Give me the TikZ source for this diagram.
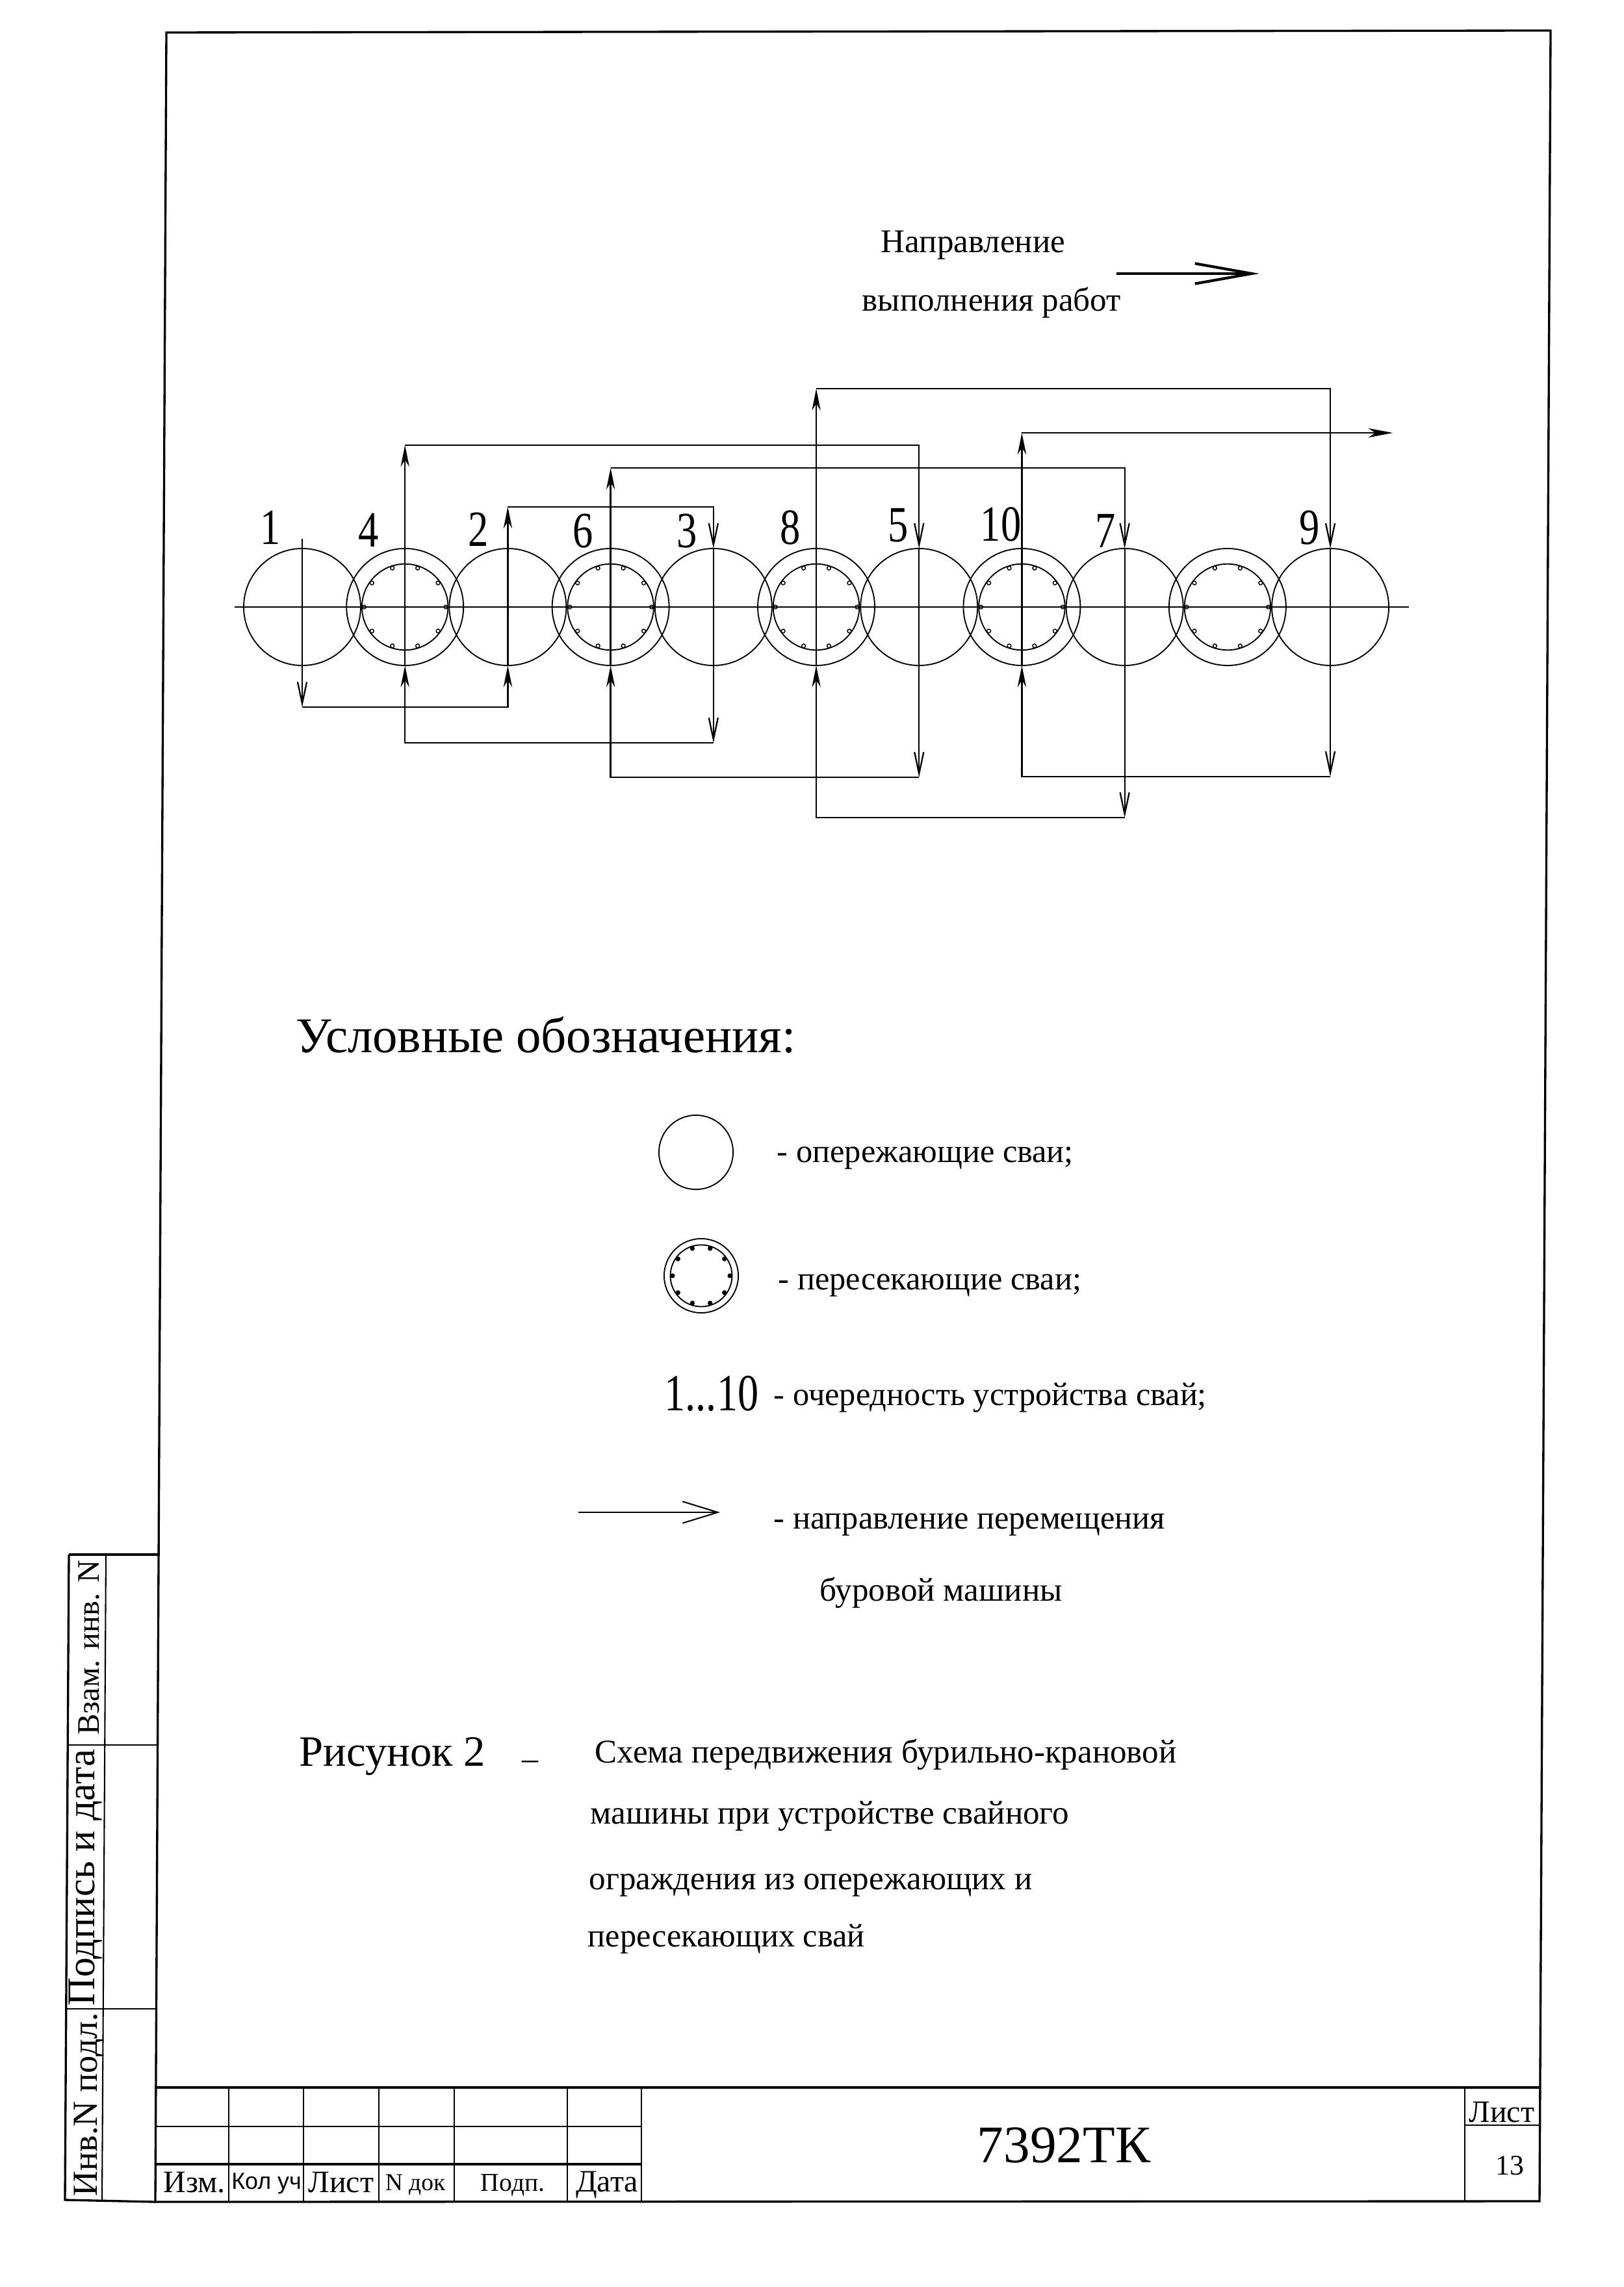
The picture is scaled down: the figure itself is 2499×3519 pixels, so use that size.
\documentclass[tikz,border=0pt]{standalone}
\usepackage{fontspec}
\setmainfont{Liberation Serif}
\setsansfont{Liberation Sans}
\usepackage{tikz}
\usetikzlibrary{arrows.meta,positioning}
\tikzset{
  pile/.style={draw, circle, line width=.45pt, inner sep=0pt, outer sep=0pt, minimum size=#1},
  pile/.default=43.2pt,
  rebardot/.style={},
  rebar/.style={path picture={
    \draw[line width=.45pt] (path picture bounding box.center) circle (#1pt);
    \foreach \a in {0,36,...,324} \draw[line width=.35pt, rebardot, shift={(path picture bounding box.center)}] (\a:#1pt-.8pt) circle (.7pt);
  }},
  rebar/.default=15.9,
  uproute/.style={line width=.55pt, -{Stealth[length=8pt,width=3.2pt,inset=2.5pt]}},
  downroute/.style={line width=.55pt, -{Straight Barb[length=8pt,width=3.4pt]}},
  frameline/.style={line width=.8pt},
  thinline/.style={line width=.5pt},
  txt/.style={anchor=mid west, inner sep=0pt, font=\fontsize{12.1}{14}\selectfont},
  captxt/.style={txt, font=\fontsize{12.25}{14}\selectfont},
  num/.style={inner sep=0pt, transform shape, yscale=1.25, font=\fontsize{15}{17}\selectfont},
  head/.style={inner sep=0pt, font=\fontsize{10.5}{12}\selectfont},
  side/.style={rotate=90, inner sep=0pt}
}
\begin{document}
\begin{tikzpicture}[x=.24pt, y=-.24pt, node distance=-5.23pt]
    \useasboundingbox (0,0) rectangle (2499,3519);
    % row of piles
    \node[pile] (p1) at (465,934) {};
    \node[pile, rebar, right=of p1] (p4) {};
    \node[pile, right=of p4] (p2) {};
    \node[pile, rebar, right=of p2] (p6) {};
    \node[pile, right=of p6] (p3) {};
    \node[pile, rebar, right=of p3] (p8) {};
    \node[pile, right=of p8] (p5) {};
    \node[pile, rebar, right=of p5] (p10) {};
    \node[pile, right=of p10] (p7) {};
    \node[pile, rebar, right=of p7] (p12) {};
    \node[pile, right=of p12] (p9) {};
    \coordinate (axl) at (361,934);
    \coordinate (axr) at (2168,934);
    \draw[line width=.7pt] (axl) -- (axr);
    % numbers
    \node[num] (n1) at (416,812) {1};
    \node[num] (n4) at (567,816) {4};
    \node[num] (n2) at (736,815) {2};
    \node[num] (n6) at (897,817) {6};
    \node[num] (n3) at (1057,817) {3};
    \node[num] (n8) at (1216,812) {8};
    \node[num] (n5) at (1382,808) {5};
    \node[num] (n10) at (1540,807) {10};
    \node[num] (n7) at (1701,817) {7};
    \node[num] (n9) at (2015,812) {9};
    % turning points of the route
    \coordinate[above=3.6pt of p1.north] (s1);
    \coordinate[below=15.4pt of p1.south] (b1);
    \coordinate[above=15.4pt of p2.north] (t2);
    \coordinate[below=28.6pt of p3.south] (b3);
    \coordinate[above=38.2pt of p4.north] (t4);
    \coordinate[below=41.3pt of p5.south] (b5);
    \coordinate[above=29.8pt of p6.north] (t6);
    \coordinate[below=56.2pt of p7.south] (b7);
    \coordinate[above=59pt of p8.north] (t8);
    \coordinate[below=41pt of p9.south] (b9);
    \coordinate[above=42.7pt of p10.north] (t10);
    \coordinate[right=137pt of t10] (endr);
    \draw[downroute] (s1) -- (b1);
    \draw[uproute] (b1) -| (p2.south);
    \draw[uproute] (p2.south) -- (t2);
    \draw[downroute] (t2) -| (p3.north);
    \draw[downroute] (p3.north) -- (b3);
    \draw[uproute] (b3) -| (p4.south);
    \draw[uproute] (p4.south) -- (t4);
    \draw[downroute] (t4) -| (p5.north);
    \draw[downroute] (p5.north) -- (b5);
    \draw[uproute] (b5) -| (p6.south);
    \draw[uproute] (p6.south) -- (t6);
    \draw[downroute] (t6) -| (p7.north);
    \draw[downroute] (p7.north) -- (b7);
    \draw[uproute] (b7) -| (p8.south);
    \draw[uproute] (p8.south) -- (t8);
    \draw[downroute] (t8) -| (p9.north);
    \draw[downroute] (p9.north) -- (b9);
    \draw[uproute] (b9) -| (p10.south);
    \draw[uproute] (p10.south) -- (t10);
    \draw[line width=.55pt, -{Stealth[length=9pt,width=3.4pt,inset=2.5pt]}] (t10) -- (endr);
    % work direction
    \node[captxt] (dir1) at (1355,379) {Направление};
    \node[captxt] (dir2) at (1326,469) {выполнения работ};
    \coordinate (dira) at (1718,421);
    \coordinate (dirb) at (1938,421);
    \draw[line width=1pt, -{Straight Barb[length=21pt,width=7.5pt]}] (dira) -- (dirb);
    % legend
    \node[anchor=mid west, inner sep=0pt, font=\fontsize{18.45}{22}\selectfont] (legt) at (455,1610) {Условные обозначения:};
    \node[pile=27.4pt] (leg1) at (1071,1773) {};
    \node[txt] (legt1) at (1195,1779) {- опережающие сваи;};
    \node[pile=27.4pt, rebardot/.style={fill=black}, rebar=11.4] (leg2) at (1079,1963) {};
    \node[txt] (legt2) at (1197,1975) {- пересекающие сваи;};
    \node[num, font=\fontsize{15.4}{18}\selectfont] (leg3) at (1095,2144) {1...10};
    \node[txt] (legt3) at (1190,2153) {- очередность устройства свай;};
    \coordinate (lega) at (890,2327);
    \coordinate (legb) at (1108,2327);
    \draw[line width=.5pt, -{Straight Barb[length=13pt,width=8pt]}] (lega) -- (legb);
    \node[txt] (legt4) at (1190,2343) {- направление перемещения};
    \node[captxt] (legt5) at (1261,2454) {буровой машины};
    % caption
    \node[anchor=mid west, inner sep=0pt, font=\fontsize{16}{18}\selectfont] (fig) at (460,2708) {Рисунок 2};
    \node[inner sep=0pt, font=\fontsize{12}{14}\selectfont] (figd) at (816,2716) {--};
    \node[captxt] (cap1) at (915,2703) {Схема передвижения бурильно-крановой};
    \node[captxt] (cap2) at (908,2797) {машины при устройстве свайного};
    \node[captxt] (cap3) at (906,2898) {ограждения из опережающих и};
    \node[txt] (cap4) at (904,2986) {пересекающих свай};
    % sheet frame
    \draw[frameline] (239,3388) -- (256,50) -- (2386,47) -- (2369,3387) -- cycle;
    \draw[frameline] (106,2392) -- (100,3385) -- (239,3388);
    \draw[frameline] (106,2392) -- (246,2392);
    \draw[thinline] (163,2392) -- (157,3385);
    \draw[thinline] (104,2685) -- (244,2685);
    \draw[thinline] (102,3091) -- (241,3091);
    \node[side, font=\fontsize{11.6}{14}\selectfont] (s3) at (137,2535) {Взам. инв. N};
    \node[side, font=\fontsize{14.5}{16}\selectfont] (s2) at (132,2889) {Подпись и дата};
    \node[side, font=\fontsize{13}{15}\selectfont] (s1t) at (137,3238) {Инв.N подл.};
    % title block
    \draw[frameline] (240,3212) -- (2369,3212);
    \draw[thinline] (240,3272) -- (987,3272);
    \draw[frameline] (240,3330) -- (987,3330);
    \draw[thinline] (2254,3270) -- (2369,3270);
    \draw[thinline] (352,3212) -- (352,3388);
    \draw[thinline] (467,3212) -- (467,3388);
    \draw[thinline] (583,3212) -- (583,3388);
    \draw[thinline] (699,3212) -- (699,3388);
    \draw[thinline] (873,3212) -- (873,3388);
    \draw[thinline] (987,3212) -- (987,3388);
    \draw[thinline] (2254,3212) -- (2254,3387);
    \node[head, font=\fontsize{11.5}{13}\selectfont] (c1) at (299,3358) {Изм.};
    \node[head, font=\sffamily\fontsize{8.6}{10}\selectfont] (c2) at (410,3360) {Кол уч};
    \node[head, font=\fontsize{11.5}{13}\selectfont] (c3) at (525,3358) {Лист};
    \node[head, font=\fontsize{9}{11}\selectfont] (c4) at (639,3362) {N док};
    \node[head, font=\fontsize{9.5}{11}\selectfont] (c5) at (789,3362) {Подп.};
    \node[head, font=\fontsize{11.5}{13}\selectfont] (c6) at (934,3362) {Дата};
    \node[inner sep=0pt, font=\fontsize{19.5}{22}\selectfont] (code) at (1637,3301) {7392ТК};
    \node[head, font=\fontsize{11.5}{13}\selectfont] (sh) at (2311,3250) {Лист};
    \node[head] (shn) at (2323,3332) {13};
  \end{tikzpicture}
\end{document}
